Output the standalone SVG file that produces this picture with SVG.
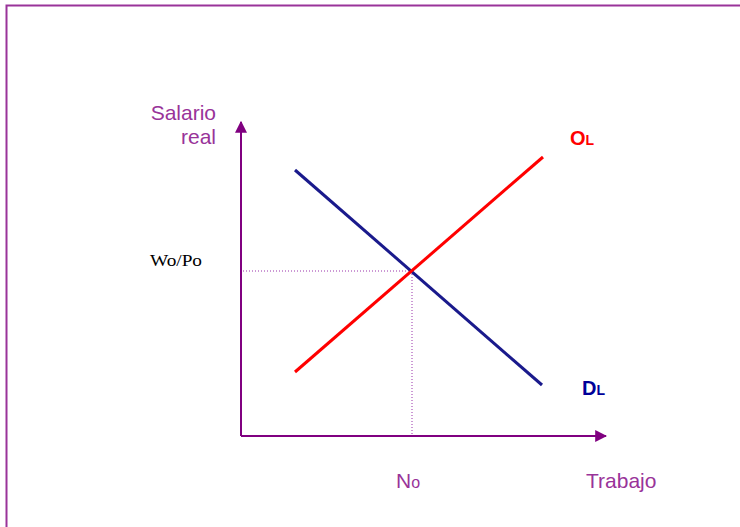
<svg xmlns="http://www.w3.org/2000/svg" width="740" height="527" viewBox="0 0 740 527">
<style>
.lbl{font-family:"Liberation Sans",Arial,sans-serif;fill:#993399;font-size:21px}
.axis{stroke:#800080;stroke-width:2;fill:none}
.dot{stroke:#9933aa;stroke-width:1;stroke-dasharray:1 2;fill:none}
</style>
<defs>
<marker id="ah" viewBox="0 0 10 10" refX="9" refY="5" markerWidth="6" markerHeight="6" orient="auto" markerUnits="strokeWidth">
<path d="M0,0 L10,5 L0,10 z" fill="#800080"/>
</marker>
</defs>
<rect width="740" height="527" fill="#fff"/>
<g id="frame">
<path d="M6.5,527 V5.5 H740" stroke="#993399" stroke-width="2" fill="none"/>
</g>
<g id="connectors">
<line class="axis" x1="241" y1="436" x2="241" y2="122" marker-end="url(#ah)"/>
<line class="axis" x1="241" y1="436" x2="606" y2="436" marker-end="url(#ah)"/>
<line class="dot" x1="243" y1="271" x2="412" y2="271"/>
<line class="dot" x1="412" y1="271" x2="412" y2="435"/>
</g>
<g id="demand">
<line x1="295" y1="170" x2="542" y2="385" stroke="#1a1a8c" stroke-width="3"/>
<text x="582" y="395" font-family="'Liberation Sans',Arial,sans-serif" font-weight="bold" font-size="20" fill="#000099">D<tspan font-size="14">L</tspan></text>
</g>
<g id="supply">
<line x1="295" y1="372" x2="543" y2="157" stroke="#ff0000" stroke-width="3"/>
<text x="570" y="145" font-family="'Liberation Sans',Arial,sans-serif" font-weight="bold" font-size="20" fill="#ff0000">O<tspan font-size="14">L</tspan></text>
</g>
<g id="labels">
<text class="lbl" x="216" y="120" text-anchor="end">Salario</text>
<text class="lbl" x="216" y="144" text-anchor="end">real</text>
<text x="150" y="266" font-family="'Liberation Serif','Times New Roman',serif" font-size="17" textLength="52" lengthAdjust="spacingAndGlyphs" fill="#000">Wo/Po</text>
<text class="lbl" x="396" y="488">N<tspan font-size="16">o</tspan></text>
<text class="lbl" x="586" y="488">Trabajo</text>
</g>
</svg>
